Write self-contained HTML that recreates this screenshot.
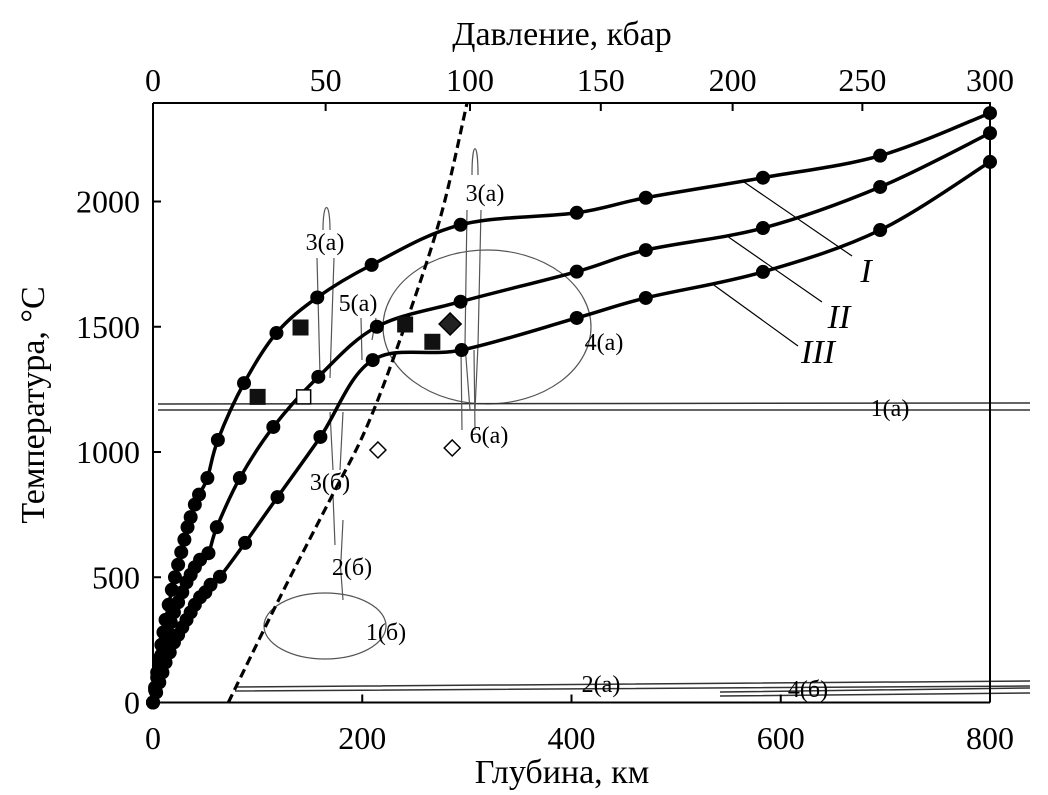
<!DOCTYPE html>
<html><head><meta charset="utf-8">
<style>
html,body{margin:0;padding:0;background:#fff;}
svg{display:block;font-family:"Liberation Serif",serif;}
</style></head>
<body>
<svg id="chart" width="1048" height="795" viewBox="0 0 1048 795" xmlns="http://www.w3.org/2000/svg">
<rect x="0" y="0" width="1048" height="795" fill="#fff"/>
<g id="annot" fill="none" stroke="#555" stroke-width="1.2">
  <ellipse cx="487" cy="327" rx="104" ry="77"/>
  <ellipse cx="325" cy="626" rx="61" ry="33"/>
  <path d="M158 404 L1030 403 M158 410 L1030 410" stroke="#333" stroke-width="1.5"/>
  <path d="M235 687 L1030 681 M235 691 L1030 686" stroke="#333" stroke-width="1.5"/>
  <path d="M720 692 L1030 688 M720 696 L1030 693" stroke="#333" stroke-width="1.5"/>
  <path d="M317 258 L320 375 M334 258 L330 378 M323 230 C323 200 330 200 330 230"/>
  <path d="M467 210 L465 345 L470 410 M481 210 L478 345 L475 410 M472 175 C472 140 478 140 478 175"/>
  <path d="M361 318 L362 360 M376 318 L372 340"/>
  <path d="M461 350 L462 430 M474 350 L475 430"/>
  <path d="M330 412 L333 470 M343 412 L340 470 M333 495 L335 545 M343 520 L341 560 M340 560 L343 600"/>
  <path d="M744 182 L852 256 M727 236 L822 302 M711 283 L798 346" stroke="#000"/>
</g>
<g id="axes"></g>
<g id="marks"></g>
<g id="labels" font-size="24" fill="#000" text-anchor="middle">
  <text x="325" y="250">3(a)</text>
  <text x="358" y="311">5(a)</text>
  <text x="485" y="201">3(a)</text>
  <text x="604" y="350">4(a)</text>
  <text x="489" y="443">6(a)</text>
  <text x="890" y="416">1(a)</text>
  <text x="330" y="490">3(б)</text>
  <text x="352" y="575">2(б)</text>
  <text x="386" y="640">1(б)</text>
  <text x="601" y="692">2(a)</text>
  <text x="808" y="697">4(б)</text>
  <text x="866" y="282" font-size="34" font-style="italic">I</text>
  <text x="839" y="328" font-size="34" font-style="italic">II</text>
  <text x="818" y="363" font-size="34" font-style="italic">III</text>
</g>
</svg>
<script>
const xTicks=[0,200,400,600,800];
const yTicks=[0,500,1000,1500,2000];
const pTickLabels=["0","50","100","150","200","250","300"];
const pTickDepth=[0,165,303,428,554,678,800];
const depthI=[0,2,4,6,8,10,12,15,18,21,24,27,30,33,36,40,44,52,62,87,118,157,209,294,405,471,583,695,800];
const tempI=[0,60,120,175,230,280,330,390,450,500,550,600,650,700,740,790,830,896,1048,1275,1475,1617,1747,1907,1955,2015,2095,2183,2353];
const depthII=[0,2,4,6,8,11,14,17,20,24,28,32,36,40,45,53,61,83,115,158,214,294,405,471,583,695,800];
const tempII=[0,50,100,150,190,240,280,320,360,400,440,480,510,540,570,596,700,896,1100,1300,1500,1600,1720,1806,1894,2058,2273];
const depthIII=[0,3,6,9,12,16,20,24,28,32,36,40,45,50,55,64,88,119,160,210,295,405,471,583,695,800];
const tempIII=[0,40,80,120,160,200,240,270,300,330,360,390,420,440,470,502,637,820,1060,1367,1407,1535,1615,1719,1886,2158];
const dashDepth=[72,121,169,203,236,274,300];
const dashTemp=[0,417,808,1088,1447,1926,2390];
const filledSqDepth=[100,141,241,267];
const filledSqTemp=[1220,1497,1509,1440];
const openSqDepth=[144];
const openSqTemp=[1220];
const filledDiaDepth=[284];
const filledDiaTemp=[1511];
const openDiaDepth=[215,286];
const openDiaTemp=[1008,1016];

const X0=153,X1=990,Y0=702.5,Yk=0.2505,TOP=103;
function x(d){return X0+d*(X1-X0)/800;}
function y(t){return Y0-t*Yk;}
const NS="http://www.w3.org/2000/svg";
function mk(tag,attrs,parent){const e=document.createElementNS(NS,tag);for(const k in attrs)e.setAttribute(k,attrs[k]);parent.appendChild(e);return e;}
const axes=document.getElementById('axes');
const marks=document.getElementById('marks');

const frame=mk('path',{d:`M${X0} ${TOP} L${X0} ${Y0} L${X1} ${Y0} M${X0} ${TOP} L${X1} ${TOP} L${X1} ${Y0}`,fill:'none',stroke:'#000','stroke-width':2},axes);


xTicks.forEach(v=>{
  const t=mk('line',{x1:x(v),x2:x(v),y1:Y0,y2:Y0-8,stroke:'#000','stroke-width':2},axes);
  
  
  const l=mk('text',{x:x(v),y:749,'font-size':32,'text-anchor':'middle'},axes);l.textContent=v;
  
  
});
yTicks.forEach(v=>{
  const t=mk('line',{x1:X0,x2:X0+8,y1:y(v),y2:y(v),stroke:'#000','stroke-width':2},axes);
  
  
  const l=mk('text',{x:140,y:y(v)+11,'font-size':32,'text-anchor':'end'},axes);l.textContent=v;
  
  
});
pTickLabels.forEach((s,i)=>{
  const px=x(pTickDepth[i]);
  if(i>0&&i<pTickLabels.length-1){const t=mk('line',{x1:px,x2:px,y1:TOP,y2:TOP+8,stroke:'#000','stroke-width':2},axes);
  
  }
  const l=mk('text',{x:px,y:91,'font-size':32,'text-anchor':'middle'},axes);l.textContent=s;
  
  
});
let tt=mk('text',{x:562,y:45,'font-size':34,'text-anchor':'middle'},axes);tt.textContent='Давление, кбар';


let bt=mk('text',{x:562,y:783,'font-size':34,'text-anchor':'middle'},axes);bt.textContent='Глубина, км';


let lt=mk('text',{x:0,y:0,'font-size':34,'text-anchor':'middle',transform:'translate(44,405) rotate(-90)'},axes);lt.textContent='Температура, °C';



function smooth(pts){
  let d=`M${pts[0][0]} ${pts[0][1]}`;
  for(let i=0;i<pts.length-1;i++){
    const p0=pts[Math.max(0,i-1)],p1=pts[i],p2=pts[i+1],p3=pts[Math.min(pts.length-1,i+2)];
    const c1=[p1[0]+(p2[0]-p0[0])/6,p1[1]+(p2[1]-p0[1])/6];
    const c2=[p2[0]-(p3[0]-p1[0])/6,p2[1]-(p3[1]-p1[1])/6];
    d+=` C${c1[0]} ${c1[1]} ${c2[0]} ${c2[1]} ${p2[0]} ${p2[1]}`;
  }
  return d;
}
function series(ds,ts,name){
  const pts=ds.map((d,i)=>[x(d),y(ts[i])]);
  const p=mk('path',{d:smooth(pts),fill:'none',stroke:'#000','stroke-width':3.5},marks);
  
  
  pts.forEach(q=>{
    const c=mk('circle',{cx:q[0],cy:q[1],r:7,fill:'#000'},marks);
    
    
  });
}
series(depthI,tempI,'series-I');
series(depthII,tempII,'series-II');
series(depthIII,tempIII,'series-III');

const dp=mk('path',{d:smooth(dashDepth.map((d,i)=>[x(d),y(dashTemp[i])])),fill:'none',stroke:'#000','stroke-width':3.2,'stroke-dasharray':'9,5'},marks);



filledSqDepth.forEach((d,i)=>{
  const r=mk('rect',{x:x(d)-8,y:y(filledSqTemp[i])-8,width:16,height:16,fill:'#111'},marks);
  
  
});
openSqDepth.forEach((d,i)=>{
  const r=mk('rect',{x:x(d)-7,y:y(openSqTemp[i])-7,width:14,height:14,fill:'#fff',stroke:'#000','stroke-width':1.5},marks);
  
  
});
filledDiaDepth.forEach((d,i)=>{
  const cx=x(d),cy=y(filledDiaTemp[i]);
  const r=mk('path',{d:`M${cx} ${cy-11} L${cx+11} ${cy} L${cx} ${cy+11} L${cx-11} ${cy} Z`,fill:'#222',stroke:'#000','stroke-width':1.5},marks);
  
  
});
openDiaDepth.forEach((d,i)=>{
  const cx=x(d),cy=y(openDiaTemp[i]);
  const r=mk('path',{d:`M${cx} ${cy-8} L${cx+8} ${cy} L${cx} ${cy+8} L${cx-8} ${cy} Z`,fill:'#fff',stroke:'#000','stroke-width':1.5},marks);
  
  
});
</script>
</body></html>
